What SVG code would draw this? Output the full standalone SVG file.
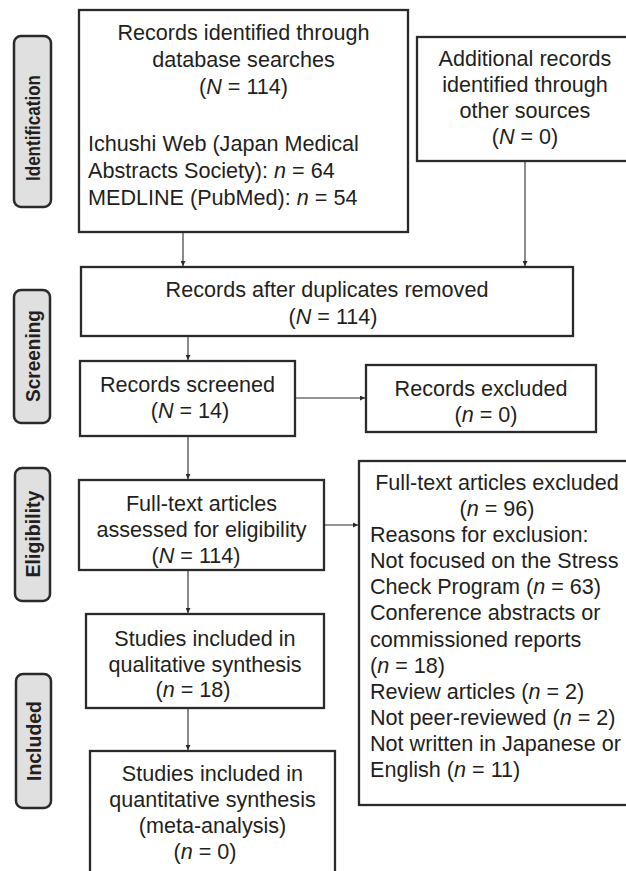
<svg xmlns="http://www.w3.org/2000/svg" width="626" height="871" viewBox="0 0 626 871">
<defs>
<style>
.box{fill:#fff;stroke:#2a2a2a;stroke-width:2.3}
.pill{fill:#e0e0e0;stroke:#2a2a2a;stroke-width:2.5}
.t{font-family:"Liberation Sans",Arial,Helvetica,sans-serif;font-size:21.6px;fill:#231f20}
.c{text-anchor:middle}
.lab{font-family:"Liberation Sans",Arial,Helvetica,sans-serif;font-size:20px;font-weight:bold;fill:#231f20;text-anchor:middle}
.i{font-style:italic}
.con line{stroke:#2a2a2a;stroke-width:1.1;marker-end:url(#ah)}
</style>
<marker id="ah" viewBox="0 0 6 6" refX="6" refY="3" markerWidth="5" markerHeight="5" markerUnits="userSpaceOnUse" orient="auto">
<path d="M0,0 L6,3 L0,6 z" fill="#2a2a2a"/>
</marker>
</defs>
<rect width="626" height="871" fill="#fff"/>

<g id="label-identification">
<rect class="pill" x="14" y="36" width="37" height="171" rx="7"/>
<text class="lab" style="font-size:19.5px" transform="translate(39.5,128) rotate(-90)" textLength="106" lengthAdjust="spacingAndGlyphs">Identification</text>
</g>
<g id="label-screening">
<rect class="pill" x="14" y="290" width="36" height="133" rx="7"/>
<text class="lab" transform="translate(39.5,356) rotate(-90)" textLength="92" lengthAdjust="spacingAndGlyphs">Screening</text>
</g>
<g id="label-eligibility">
<rect class="pill" x="15" y="468" width="35" height="133" rx="7"/>
<text class="lab" transform="translate(40,534) rotate(-90)" textLength="87" lengthAdjust="spacingAndGlyphs">Eligibility</text>
</g>
<g id="label-included">
<rect class="pill" x="16" y="674" width="35" height="134" rx="7"/>
<text class="lab" transform="translate(40.5,741) rotate(-90)" textLength="80" lengthAdjust="spacingAndGlyphs">Included</text>
</g>

<g id="n-database">
<rect class="box" x="79" y="10" width="329" height="222"/>
<text class="t c" x="243.5" y="40">Records identified through</text>
<text class="t c" x="243.5" y="67">database searches</text>
<text class="t c" x="243.5" y="94">(<tspan class="i">N</tspan> = 114)</text>
<text class="t" x="88" y="151">Ichushi Web (Japan Medical</text>
<text class="t" x="88" y="178">Abstracts Society): <tspan class="i">n</tspan> = 64</text>
<text class="t" x="88" y="205">MEDLINE (PubMed): <tspan class="i">n</tspan> = 54</text>
</g>

<g id="n-other">
<rect class="box" x="417" y="37" width="218" height="124"/>
<text class="t c" x="525" y="66">Additional records</text>
<text class="t c" x="525" y="92">identified through</text>
<text class="t c" x="525" y="118">other sources</text>
<text class="t c" x="525" y="144">(<tspan class="i">N</tspan> = 0)</text>
</g>

<g id="n-duplicates">
<rect class="box" x="81" y="267" width="492" height="69"/>
<text class="t c" x="327" y="297">Records after duplicates removed</text>
<text class="t c" x="333" y="324">(<tspan class="i">N</tspan> = 114)</text>
</g>

<g id="n-screened">
<rect class="box" x="80" y="361" width="215" height="75"/>
<text class="t c" x="187.5" y="392">Records screened</text>
<text class="t c" x="190" y="418">(<tspan class="i">N</tspan> = 14)</text>
</g>

<g id="n-excluded">
<rect class="box" x="366" y="365" width="230" height="67"/>
<text class="t c" x="481" y="396">Records excluded</text>
<text class="t c" x="486" y="422">(<tspan class="i">n</tspan> = 0)</text>
</g>

<g id="n-fulltext">
<rect class="box" x="79" y="480" width="245" height="90"/>
<text class="t c" x="201.5" y="511">Full-text articles</text>
<text class="t c" x="201.5" y="537">assessed for eligibility</text>
<text class="t c" x="196" y="563">(<tspan class="i">N</tspan> = 114)</text>
</g>

<g id="n-ftexcluded">
<rect class="box" x="359" y="461" width="280" height="344"/>
<text class="t c" x="497" y="490">Full-text articles excluded</text>
<text class="t c" x="497" y="516">(<tspan class="i">n</tspan> = 96)</text>
<text class="t" x="370" y="542">Reasons for exclusion:</text>
<text class="t" x="370" y="568">Not focused on the Stress</text>
<text class="t" x="370" y="594">Check Program (<tspan class="i">n</tspan> = 63)</text>
<text class="t" x="370" y="620">Conference abstracts or</text>
<text class="t" x="370" y="647">commissioned reports</text>
<text class="t" x="370" y="673">(<tspan class="i">n</tspan> = 18)</text>
<text class="t" x="370" y="699">Review articles (<tspan class="i">n</tspan> = 2)</text>
<text class="t" x="370" y="725">Not peer-reviewed (<tspan class="i">n</tspan> = 2)</text>
<text class="t" x="370" y="751">Not written in Japanese or</text>
<text class="t" x="370" y="777">English (<tspan class="i">n</tspan> = 11)</text>
</g>

<g id="n-qualitative">
<rect class="box" x="86" y="614" width="238" height="94"/>
<text class="t c" x="205" y="646">Studies included in</text>
<text class="t c" x="205" y="672">qualitative synthesis</text>
<text class="t c" x="193" y="697">(<tspan class="i">n</tspan> = 18)</text>
</g>

<g id="n-quantitative">
<rect class="box" x="90" y="751" width="245" height="140"/>
<text class="t c" x="212.5" y="781">Studies included in</text>
<text class="t c" x="212.5" y="807">quantitative synthesis</text>
<text class="t c" x="212.5" y="833">(meta-analysis)</text>
<text class="t c" x="205" y="859">(<tspan class="i">n</tspan> = 0)</text>
</g>

<g id="connectors" class="con">
<line x1="183" y1="233" x2="183" y2="266"/>
<line x1="525" y1="162" x2="525" y2="266"/>
<line x1="188" y1="337" x2="188" y2="360"/>
<line x1="296" y1="398" x2="365" y2="398"/>
<line x1="188" y1="437" x2="188" y2="479"/>
<line x1="325" y1="525" x2="358" y2="525"/>
<line x1="188" y1="571" x2="188" y2="613"/>
<line x1="188" y1="709" x2="188" y2="750"/>
</g>
</svg>
